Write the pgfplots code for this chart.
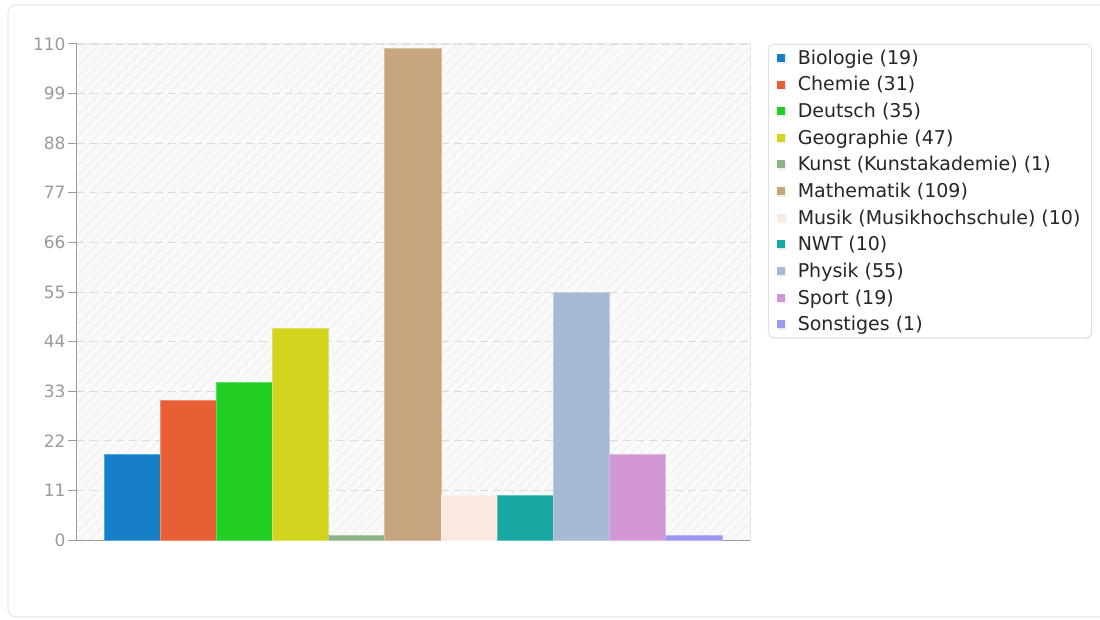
\documentclass[border=0pt]{standalone}
\usepackage{pgfplots}
\pgfplotsset{compat=1.18}
\usepackage{fontspec}
\setmainfont{DejaVu Sans}
\usetikzlibrary{patterns.meta,shadows}
\definecolor{cBio}{HTML}{1580C8}
\definecolor{cChe}{HTML}{E85F35}
\definecolor{cDeu}{HTML}{22CE24}
\definecolor{cGeo}{HTML}{D2D41E}
\definecolor{cKun}{HTML}{8BB385}
\definecolor{cMat}{HTML}{C5A67F}
\definecolor{cMus}{HTML}{FBE8E0}
\definecolor{cNWT}{HTML}{18A8A2}
\definecolor{cPhy}{HTML}{A7BAD5}
\definecolor{cSpo}{HTML}{D397D5}
\definecolor{cSon}{HTML}{9B98F3}
\definecolor{tickgray}{HTML}{9A9A9A}
\begin{document}
\begin{tikzpicture}
\useasboundingbox (0,0) rectangle (1100pt,619pt);
\draw[color=black!9, line width=1.2pt, rounded corners=8pt] (8pt,2pt) rectangle (1110pt,614pt);
\begin{axis}[
  at={(77pt,79pt)}, anchor=south west,
  scale only axis, width=673pt, height=496pt,
  ybar, bar width=1, bar shift=0pt,
  xmin=-0.98, xmax=11, ymin=0, ymax=110,
  ytick={0,11,...,110}, xtick=\empty,
  axis x line*=bottom, axis y line*=left,
  axis line style={draw=tickgray, line width=1pt},
  tick align=outside, major tick length=9pt,
  ytick style={draw=tickgray, line width=1pt},
  ymajorgrids, major grid style={draw=black!14, dash pattern=on 8pt off 5pt, line width=0.8pt},
  /pgf/number format/assume math mode=true,
  yticklabel style={font=\fontsize{17}{20}\selectfont, text=tickgray, xshift=1pt},
  axis background/.style={fill=black!2, draw=black!10, line width=1pt,
    postaction={pattern={Lines[angle=45,distance=7pt,line width=0.7pt]}, pattern color=black!7}},
  legend style={at={(axis description cs:1.0267,1)}, anchor=north west,
    draw=black!12, rounded corners=5pt, fill=white, line width=0.8pt,
    drop shadow={opacity=0.12, shadow xshift=1pt, shadow yshift=-1.5pt},
    font=\fontsize{19}{22}\selectfont, text=black!85,
    row sep=6.7pt, inner xsep=9pt, inner ysep=3.5pt},
  legend cell align=left,
  legend image code/.code={\fill[#1, draw=none, sharp corners] (2pt,-4pt) rectangle (10pt,4pt); \path (20pt,0pt);},
]
\addplot[fill=cBio, draw=cBio!70!white, line width=0.8pt] coordinates {(0,19)};
\addlegendentry{Biologie (19)}
\addplot[fill=cChe, draw=cChe!70!white, line width=0.8pt] coordinates {(1,31)};
\addlegendentry{Chemie (31)}
\addplot[fill=cDeu, draw=cDeu!70!white, line width=0.8pt] coordinates {(2,35)};
\addlegendentry{Deutsch (35)}
\addplot[fill=cGeo, draw=cGeo!70!white, line width=0.8pt] coordinates {(3,47)};
\addlegendentry{Geographie (47)}
\addplot[fill=cKun, draw=cKun!70!white, line width=0.8pt] coordinates {(4,1)};
\addlegendentry{Kunst (Kunstakademie) (1)}
\addplot[fill=cMat, draw=cMat!70!white, line width=0.8pt] coordinates {(5,109)};
\addlegendentry{Mathematik (109)}
\addplot[fill=cMus, draw=cMus!70!white, line width=0.8pt] coordinates {(6,10)};
\addlegendentry{Musik (Musikhochschule) (10)}
\addplot[fill=cNWT, draw=cNWT!70!white, line width=0.8pt] coordinates {(7,10)};
\addlegendentry{NWT (10)}
\addplot[fill=cPhy, draw=cPhy!70!white, line width=0.8pt] coordinates {(8,55)};
\addlegendentry{Physik (55)}
\addplot[fill=cSpo, draw=cSpo!70!white, line width=0.8pt] coordinates {(9,19)};
\addlegendentry{Sport (19)}
\addplot[fill=cSon, draw=cSon!70!white, line width=0.8pt] coordinates {(10,1)};
\addlegendentry{Sonstiges (1)}
\end{axis}
\end{tikzpicture}
\end{document}
